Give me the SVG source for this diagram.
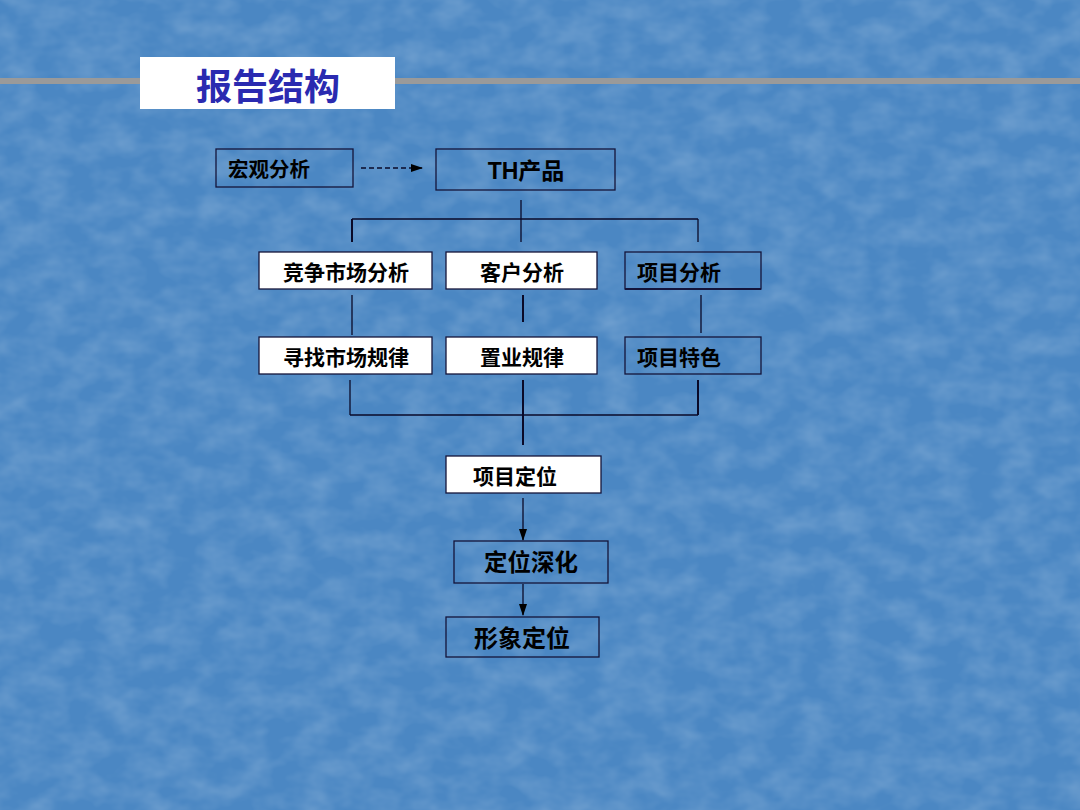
<svg xmlns="http://www.w3.org/2000/svg" width="1080" height="810" viewBox="0 0 1080 810">
  <defs>
    <filter id="tex" x="0" y="0" width="100%" height="100%">
      <feTurbulence type="fractalNoise" baseFrequency="0.03 0.045" numOctaves="3" seed="7" result="n"/>
      <feColorMatrix type="matrix" values="0 0 0 0 1  0 0 0 0 1  0 0 0 0 1  0 0 0 0.3 -0.1" in="n"/>
    </filter>
    <marker id="arr" markerWidth="12" markerHeight="10" refX="11" refY="5" orient="auto" markerUnits="userSpaceOnUse">
      <path d="M0,1 L12,5 L0,9 Z" fill="#000"/>
    </marker>
    <style>
      .box { stroke: #14143a; stroke-width: 1.3; }
      .w { fill: #ffffff; }
      .t { fill: none; }
      .lbl { font-family: "Liberation Sans", "Noto Sans CJK SC", sans-serif; font-weight: bold; fill: #000; }
      .ln { stroke: #0a0a28; stroke-width: 1.3; fill: none; }
      .lnb { stroke: #0a0a28; stroke-width: 2; fill: none; }
    </style>
  </defs>
  <rect x="0" y="0" width="1080" height="810" fill="#4b87c3"/>
  <rect x="0" y="0" width="1080" height="810" filter="url(#tex)"/>
  <rect x="0" y="78" width="1080" height="6" fill="#9a9a9a"/>

  <g id="title">
    <rect x="140" y="57" width="255" height="52" fill="#ffffff"/>
    <text x="268" y="100" text-anchor="middle" font-family="Liberation Sans, Noto Sans CJK SC, sans-serif" font-weight="bold" font-size="36" fill="#2a2ab0">报告结构</text>
  </g>

  <g id="connectors">
    <line x1="361" y1="168" x2="422" y2="168" class="ln" stroke-dasharray="5,3" marker-end="url(#arr)"/>
    <line x1="521" y1="200" x2="521" y2="242" class="ln"/>
    <line x1="352" y1="219" x2="698" y2="219" class="ln"/>
    <line x1="352" y1="219" x2="352" y2="242" class="lnb"/>
    <line x1="698" y1="219" x2="698" y2="242" class="ln"/>
    <line x1="352" y1="295" x2="352" y2="335" class="ln"/>
    <line x1="523" y1="295" x2="523" y2="322" class="lnb"/>
    <line x1="701" y1="295" x2="701" y2="333" class="ln"/>
    <line x1="350" y1="380" x2="350" y2="415" class="ln"/>
    <line x1="698" y1="380" x2="698" y2="415" class="lnb"/>
    <line x1="523" y1="380" x2="523" y2="445" class="lnb"/>
    <line x1="350" y1="415" x2="698" y2="415" class="ln"/>
    <line x1="523" y1="498" x2="523" y2="540" class="ln" marker-end="url(#arr)"/>
    <line x1="523" y1="584" x2="523" y2="615" class="ln" marker-end="url(#arr)"/>
  </g>

  <g id="node-macro">
    <rect x="216" y="149" width="137" height="38" class="box t"/>
    <text x="228" y="177" class="lbl" font-size="20.5">宏观分析</text>
  </g>
  <g id="node-th">
    <rect x="436" y="149" width="179" height="41" class="box t"/>
    <text x="526" y="179" class="lbl" font-size="23" text-anchor="middle">TH产品</text>
  </g>
  <g id="node-competition">
    <rect x="259" y="252" width="173" height="37" class="box w"/>
    <text x="346" y="280" class="lbl" font-size="21" text-anchor="middle">竞争市场分析</text>
  </g>
  <g id="node-customer">
    <rect x="446" y="252" width="151" height="37" class="box w"/>
    <text x="522" y="280" class="lbl" font-size="21" text-anchor="middle">客户分析</text>
  </g>
  <g id="node-project">
    <rect x="625" y="252" width="136" height="37" class="box t"/>
    <line x1="625" y1="289" x2="761" y2="289" stroke="#14143a" stroke-width="2"/>
    <text x="637" y="280" class="lbl" font-size="21">项目分析</text>
  </g>
  <g id="node-market-rules">
    <rect x="259" y="337" width="173" height="37" class="box w"/>
    <text x="346" y="365" class="lbl" font-size="21" text-anchor="middle">寻找市场规律</text>
  </g>
  <g id="node-purchase-rules">
    <rect x="446" y="337" width="151" height="37" class="box w"/>
    <text x="522" y="365" class="lbl" font-size="21" text-anchor="middle">置业规律</text>
  </g>
  <g id="node-features">
    <rect x="625" y="337" width="136" height="37" class="box t"/>
    <text x="637" y="365" class="lbl" font-size="21">项目特色</text>
  </g>
  <g id="node-positioning">
    <rect x="446" y="456" width="155" height="37" class="box w"/>
    <text x="515" y="484" class="lbl" font-size="21" text-anchor="middle">项目定位</text>
  </g>
  <g id="node-deepen">
    <rect x="454" y="541" width="154" height="42" class="box t"/>
    <text x="531" y="571" class="lbl" font-size="23.5" text-anchor="middle">定位深化</text>
  </g>
  <g id="node-image">
    <rect x="446" y="617" width="153" height="40" class="box t"/>
    <text x="522" y="647" class="lbl" font-size="24" text-anchor="middle">形象定位</text>
  </g>
</svg>
